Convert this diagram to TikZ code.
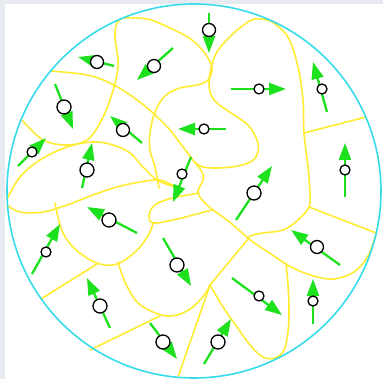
\documentclass[tikz,border=0pt]{standalone}
\usetikzlibrary{arrows.meta}
\definecolor{bggray}{RGB}{232,234,242}
\definecolor{ringcyan}{RGB}{55,220,235}
\definecolor{cellyellow}{RGB}{255,236,50}
\definecolor{velgreen}{RGB}{30,225,30}
\begin{document}
\begin{tikzpicture}[x=1pt,y=-1pt,
  cell/.style={draw=cellyellow, line width=1.6pt, line join=round, line cap=round},
  ring/.style={draw=ringcyan, line width=1.6pt},
  vel/.style={draw=velgreen, line width=2.3pt, -{Triangle[length=17pt,width=12pt]}},
  particle/.style={circle, draw=black, fill=white, line width=1.3pt, inner sep=0pt, minimum size=#1},
]
\useasboundingbox (0,0) rectangle (383,379);
\fill[bggray] (0,0) rectangle (383,379);
\fill[white] (5,4) rectangle (383,379);

% cell boundaries
\draw[cell] plot[smooth, tension=0.6] coordinates {(22,120) (43,140) (67,145) (87,140) (100,123) (110,100) (118,67) (115,37) (117,23) (123,18)};
\draw[cell] plot[smooth, tension=0.6] coordinates {(123,18) (147,19) (170,28) (192,40) (206,55) (212,68) (208,80) (197,85) (180,88) (165,96) (155,112) (150,133) (150,150) (155,167) (159,188)};
\draw[cell] plot[smooth, tension=0.6] coordinates {(51,71) (87,75) (110,83) (133,97) (153,113) (170,130) (183,147) (193,160) (202,172) (203,180) (199,188) (198,193) (203,201) (213,210) (227,220) (240,231) (253,242) (268,252) (291,267) (314,276) (334,279) (354,272) (368,256) (376,234)};
\draw[cell] plot[smooth, tension=0.6] coordinates {(271,21) (255,19) (241,27) (224,43) (214,58) (209,83) (214,100) (231,113) (248,125) (257,140) (258,152) (252,161) (238,166) (218,168) (203,167) (196,163)};
\draw[cell] plot[smooth, tension=0.6] coordinates {(271,21) (288,37) (298,67) (303,100) (304,133) (308,167) (310,193) (309,207) (298,220) (283,230) (263,233) (250,236) (248,239)};
\coordinate (j1) at (304,133); \coordinate (e1) at (366,117);
\coordinate (j2) at (309,207); \coordinate (e2) at (376,233);
\draw[cell] (j1) -- (e1);
\draw[cell] (j2) -- (e2);
\draw[cell] plot[smooth, tension=0.6] coordinates {(7,199) (20,177) (40,160) (67,147) (93,142) (113,145) (130,153) (143,167) (157,180) (175,187)};
\draw[cell] plot[smooth, tension=0.6] coordinates {(7,205) (20,212) (43,212) (67,205) (93,195) (117,187) (140,182) (160,180) (175,187)};
\draw[cell] plot[smooth, tension=0.6] coordinates {(55,203) (58,217) (63,233) (73,247) (87,258) (100,264) (113,265) (125,260) (140,247) (150,232) (153,223)};
\draw[cell] plot[smooth, tension=0.6] coordinates {(199,193) (177,197) (160,202) (152,208) (149,216) (153,223) (173,220) (193,215) (212,210)};
\draw[cell] plot[smooth, tension=0.6] coordinates {(118,262) (125,282) (137,302) (153,312) (167,316) (180,314) (193,307) (205,294) (210,285)};
\coordinate (j3) at (97,264); \coordinate (e3) at (41,299);
\coordinate (j4) at (160,316); \coordinate (e4) at (90,350);
\coordinate (j5) at (210,285); \coordinate (j6) at (248,239); \coordinate (e5) at (178,377);
\draw[cell] (j3) -- (e3);
\draw[cell] (j4) -- (e4);
\draw[cell] (j5) -- (j6);
\draw[cell] (j5) -- (e5);
\draw[cell] plot[smooth, tension=0.6] coordinates {(210,285) (223,307) (237,327) (250,345) (263,357) (275,358) (284,350) (288,332) (289,310) (288,285) (286,263)};

% boundary ring
\draw[ring] (194,191) circle [radius=187pt];

% velocity arrows
\coordinate (t1) at (114,66);  \coordinate (h1) at (78,57);
\coordinate (t2) at (173,48);  \coordinate (h2) at (137,80);
\coordinate (t3) at (55,84);   \coordinate (h3) at (73,129);
\coordinate (t4) at (142,143); \coordinate (h4) at (110,116);
\coordinate (t5) at (18,166);  \coordinate (h5) at (46,138);
\coordinate (t6) at (82,188);  \coordinate (h6) at (92,143);
\coordinate (t7) at (191,157); \coordinate (h7) at (173,202);
\coordinate (t8) at (226,129); \coordinate (h8) at (178,129);
\coordinate (t9) at (209,13);  \coordinate (h9) at (209,53);
\coordinate (t10) at (231,89); \coordinate (h10) at (286,89);
\coordinate (t11) at (327,112); \coordinate (h11) at (313,62);
\coordinate (t12) at (345,197); \coordinate (h12) at (345,143);
\coordinate (t13) at (236,220); \coordinate (h13) at (272,166);
\coordinate (t14) at (137,233); \coordinate (h14) at (87,207);
\coordinate (t15) at (163,238); \coordinate (h15) at (191,286);
\coordinate (t16) at (32,274); \coordinate (h16) at (60,224);
\coordinate (t17) at (110,328); \coordinate (h17) at (87,278);
\coordinate (t18) at (150,323); \coordinate (h18) at (177,359);
\coordinate (t19) at (340,265); \coordinate (h19) at (291,230);
\coordinate (t20) at (232,278); \coordinate (h20) at (282,315);
\coordinate (t21) at (313,324); \coordinate (h21) at (313,279);
\coordinate (t22) at (204,364); \coordinate (h22) at (231,319);
\foreach \i in {1,...,22} { \draw[vel] (t\i) -- (h\i); }

% particles
\node[particle=13] (p1) at (97,62) {};
\node[particle=13] (p2) at (154,66) {};
\node[particle=14] (p3) at (64,107) {};
\node[particle=13] (p4) at (123,130) {};
\node[particle=10] (p5) at (32,152) {};
\node[particle=14] (p6) at (87,170) {};
\node[particle=10] (p7) at (182,174) {};
\node[particle=10] (p8) at (204,129) {};
\node[particle=13] (p9) at (209,30) {};
\node[particle=10] (p10) at (259,89) {};
\node[particle=10] (p11) at (322,89) {};
\node[particle=10] (p12) at (345,170) {};
\node[particle=14] (p13) at (254,193) {};
\node[particle=14] (p14) at (109,220) {};
\node[particle=14] (p15) at (177,265) {};
\node[particle=10] (p16) at (46,252) {};
\node[particle=14] (p17) at (100,306) {};
\node[particle=14] (p18) at (163,342) {};
\node[particle=13] (p19) at (317,247) {};
\node[particle=10] (p20) at (259,296) {};
\node[particle=10] (p21) at (313,301) {};
\node[particle=14] (p22) at (218,342) {};
\end{tikzpicture}
\end{document}
